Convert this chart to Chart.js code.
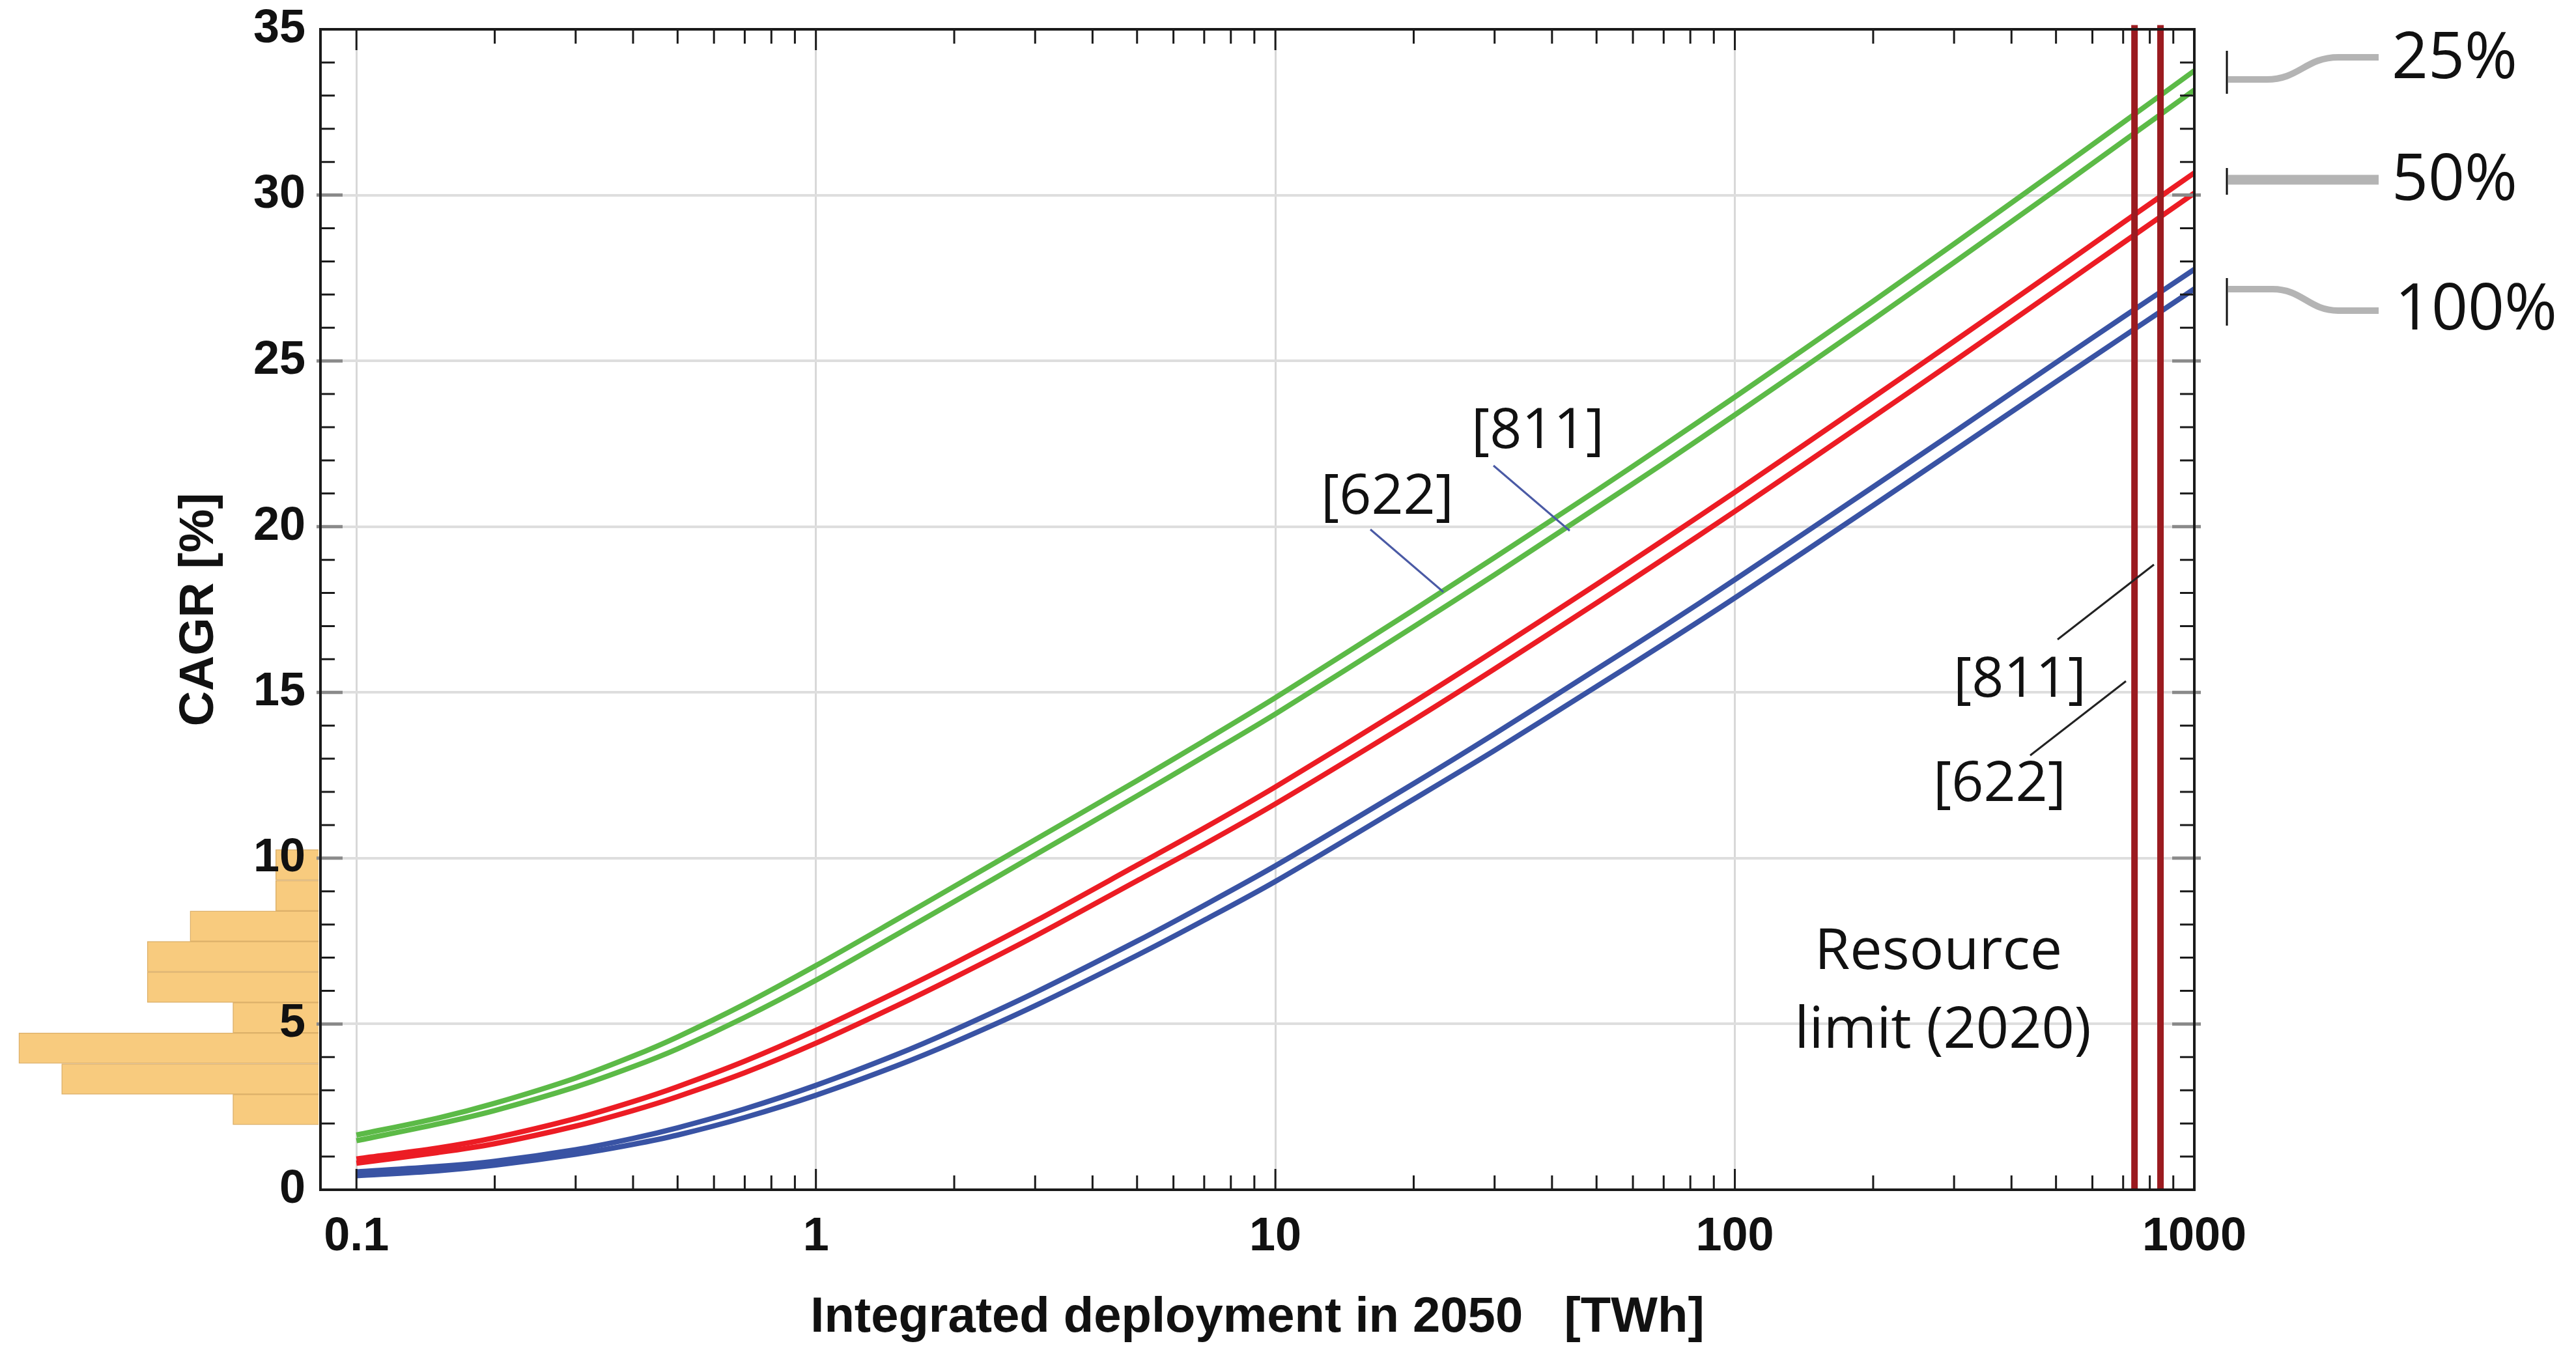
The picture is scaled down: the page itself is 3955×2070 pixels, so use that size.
<!DOCTYPE html>
<html>
<head>
<meta charset="utf-8">
<title>CAGR vs integrated deployment</title>
<script src="https://cdn.jsdelivr.net/npm/chart.js@4.4.1/dist/chart.umd.min.js"></script>
<style>
  html, body { margin: 0; padding: 0; background: #fff; }
  #wrap { position: relative; width: 3955px; height: 2070px; }
  #wrap canvas { position: absolute; left: 0; top: 0; }
</style>
</head>
<body>
<div id="wrap">
  <canvas id="histogram" width="492" height="2070"></canvas>
  <canvas id="cagr" width="3955" height="2070"></canvas>
</div>
<script>
/* global Chart */
// integrated deployment in 2050 [TWh]
var deployment = [0.1, 0.15, 0.2, 0.3, 0.4, 0.5, 0.7, 1, 1.5, 2, 3, 5, 7, 10, 20, 30, 50, 70, 100, 200, 300, 500, 700, 1000];

// CAGR [%] for each scenario, [622] and [811]
var cagr25_622 = [1.65, 2.16, 2.61, 3.37, 4.03, 4.61, 5.6, 6.76, 8.15, 9.15, 10.56, 12.34, 13.54, 14.84, 17.49, 19.07, 21.09, 22.45, 23.91, 26.8, 28.53, 30.73, 32.19, 33.75];
var cagr25_811 = [1.48, 1.98, 2.39, 3.1, 3.71, 4.25, 5.2, 6.32, 7.7, 8.69, 10.1, 11.88, 13.07, 14.35, 16.98, 18.55, 20.57, 21.91, 23.37, 26.25, 27.97, 30.16, 31.62, 33.17];
var cagr50_622 = [0.93, 1.26, 1.57, 2.15, 2.66, 3.11, 3.88, 4.81, 5.97, 6.83, 8.1, 9.79, 10.91, 12.15, 14.71, 16.26, 18.26, 19.6, 21.04, 23.9, 25.59, 27.74, 29.17, 30.67];
var cagr50_811 = [0.8, 1.12, 1.39, 1.92, 2.39, 2.81, 3.53, 4.42, 5.55, 6.4, 7.65, 9.32, 10.42, 11.64, 14.17, 15.71, 17.7, 19.03, 20.46, 23.31, 24.99, 27.14, 28.56, 30.06];
var cagr100_622 = [0.54, 0.7, 0.86, 1.21, 1.55, 1.87, 2.44, 3.15, 4.08, 4.82, 5.95, 7.5, 8.58, 9.77, 12.25, 13.75, 15.7, 16.99, 18.4, 21.2, 22.85, 24.95, 26.32, 27.76];
var cagr100_811 = [0.42, 0.57, 0.74, 1.07, 1.37, 1.65, 2.18, 2.85, 3.74, 4.45, 5.55, 7.07, 8.13, 9.3, 11.78, 13.25, 15.18, 16.46, 17.85, 20.64, 22.29, 24.37, 25.73, 27.17];

// resource limit (2020) [TWh]
var limitNames = ['[622]', '[811]'];
var resourceLimits = [741, 844];

// historical CAGR histogram
var histBinCenters = [2.42, 3.34, 4.27, 5.19, 6.11, 7.03, 7.95, 8.87, 9.80];
var histCounts = [2, 6, 7, 2, 4, 4, 3, 1, 1];

var xTickLabels = [0.1, 1, 10, 100, 1000];

var GREEN = '#5cba47';
var RED = '#ec1c24';
var BLUE = '#3953a4';
var LIMIT = '#9b1b20';
var AXIS_FONT = 'Liberation Sans, Arial, sans-serif';
var NOTE_FONT = 'Open Sans, sans-serif';

function isDecade(v) {
  var l = Math.log10(v);
  return Math.abs(l - Math.round(l)) < 1e-6;
}

function series(values) {
  return values.map(function (v, i) { return { x: deployment[i], y: v }; });
}

function curve(values, color) {
  return {
    data: series(values),
    borderColor: color,
    borderWidth: 8,
    pointRadius: 0,
    tension: 0.3,
    fill: false,
    order: 1
  };
}

var datasets = [];
resourceLimits.forEach(function (limit) {
  datasets.push({
    data: [{ x: limit, y: 0 }, { x: limit, y: 35.13 }],
    borderColor: LIMIT,
    borderWidth: 10,
    pointRadius: 0,
    clip: false,
    order: 0
  });
});
datasets.push(curve(cagr25_622, GREEN));
datasets.push(curve(cagr25_811, GREEN));
datasets.push(curve(cagr50_622, RED));
datasets.push(curve(cagr50_811, RED));
datasets.push(curve(cagr100_622, BLUE));
datasets.push(curve(cagr100_811, BLUE));

// every log tick 0.1 ... 1000 (2..9 minors between decades)
var xTickValues = [];
for (var e = -1; e <= 2; e++) {
  for (var m = 1; m <= 9; m++) {
    xTickValues.push(parseFloat((m * Math.pow(10, e)).toPrecision(3)));
  }
}
xTickValues.push(1000);

var frameAndTicks = {
  id: 'frameAndTicks',
  afterDatasetsDraw: function (chart) {
    var ctx = chart.ctx;
    var area = chart.chartArea;
    var xs = chart.scales.x;
    var ys = chart.scales.y;
    var v, py;
    ctx.save();
    ctx.strokeStyle = '#1a1a1a';
    ctx.lineWidth = 3;
    ctx.beginPath();
    xs.ticks.forEach(function (tick) {
      var px = xs.getPixelForValue(tick.value);
      var len = isDecade(tick.value) ? 32 : 22;
      ctx.moveTo(px, area.bottom); ctx.lineTo(px, area.bottom - len);
      ctx.moveTo(px, area.top); ctx.lineTo(px, area.top + len);
    });
    for (v = 1; v < 35; v++) {
      if (v % 5 === 0) continue;
      py = ys.getPixelForValue(v);
      ctx.moveTo(area.left, py); ctx.lineTo(area.left + 22, py);
      ctx.moveTo(area.right, py); ctx.lineTo(area.right - 22, py);
    }
    ctx.stroke();

    ctx.strokeStyle = '#8a8a8a';
    ctx.lineWidth = 5;
    ctx.beginPath();
    for (v = 5; v < 35; v += 5) {
      py = ys.getPixelForValue(v);
      ctx.moveTo(area.left - 6, py); ctx.lineTo(area.left + 34, py);
      ctx.moveTo(area.right + 10, py); ctx.lineTo(area.right - 34, py);
    }
    ctx.stroke();

    ctx.strokeStyle = '#1a1a1a';
    ctx.lineWidth = 4;
    ctx.strokeRect(area.left, area.top, area.right - area.left, area.bottom - area.top);
    ctx.restore();
  }
};

function leader(ctx, x1, y1, x2, y2, color) {
  ctx.strokeStyle = color;
  ctx.lineWidth = 3;
  ctx.beginPath();
  ctx.moveTo(x1, y1);
  ctx.lineTo(x2, y2);
  ctx.stroke();
}

function note(ctx, text, x, y, size) {
  ctx.font = size + 'px ' + NOTE_FONT;
  ctx.fillStyle = '#111';
  ctx.textAlign = 'center';
  ctx.textBaseline = 'middle';
  ctx.fillText(text, x, y);
}

var annotations = {
  id: 'annotations',
  afterDraw: function (chart) {
    var ctx = chart.ctx;
    ctx.save();
    // labels on the 25% pair
    note(ctx, '[811]', 2361, 663, 86);
    note(ctx, '[622]', 2130, 764, 86);
    leader(ctx, 2293, 715, 2410, 815, '#4a5aa5');
    leader(ctx, 2104, 813, 2216, 909, '#4a5aa5');

    // resource limit labels
    note(ctx, limitNames[1], 3101, 1045, 86);
    note(ctx, limitNames[0], 3070, 1205, 86);
    leader(ctx, 3159, 982, 3307, 867, '#222');
    leader(ctx, 3117, 1160, 3264, 1046, '#222');
    note(ctx, 'Resource', 2976, 1463, 88);
    note(ctx, 'limit (2020)', 2983, 1584, 88);

    // scenario brackets at the right
    ctx.strokeStyle = '#b4b4b4';
    ctx.lineCap = 'butt';
    ctx.lineWidth = 10;
    ctx.beginPath();
    ctx.moveTo(3421, 122); ctx.lineTo(3480, 122);
    ctx.bezierCurveTo(3530, 122, 3540, 88, 3590, 88);
    ctx.lineTo(3652, 88);
    ctx.moveTo(3421, 444); ctx.lineTo(3489, 444);
    ctx.bezierCurveTo(3535, 444, 3545, 477, 3590, 477);
    ctx.lineTo(3652, 477);
    ctx.stroke();
    ctx.lineWidth = 15;
    ctx.beginPath();
    ctx.moveTo(3421, 276); ctx.lineTo(3652, 276);
    ctx.stroke();

    ctx.strokeStyle = '#111';
    ctx.lineWidth = 3;
    ctx.beginPath();
    ctx.moveTo(3419, 78); ctx.lineTo(3419, 144);
    ctx.moveTo(3419, 258); ctx.lineTo(3419, 299);
    ctx.moveTo(3419, 427); ctx.lineTo(3419, 500);
    ctx.stroke();

    ctx.font = '98px ' + NOTE_FONT;
    ctx.fillStyle = '#111';
    ctx.textAlign = 'left';
    ctx.textBaseline = 'alphabetic';
    ctx.fillText('25%', 3672, 120);
    ctx.fillText('50%', 3672, 307);
    ctx.fillText('100%', 3677, 506);
    ctx.restore();
  }
};

new Chart(document.getElementById('histogram'), {
  type: 'bar',
  data: {
    datasets: [{
      data: histBinCenters.map(function (c, i) { return { x: histCounts[i], y: c }; }),
      backgroundColor: '#f8cb7e',
      borderColor: '#dcb06a',
      borderWidth: 1.5,
      barPercentage: 1,
      categoryPercentage: 1
    }]
  },
  options: {
    indexAxis: 'y',
    responsive: false,
    animation: false,
    layout: { padding: { left: 0, right: 3, top: 45, bottom: 243 } },
    scales: {
      x: { type: 'linear', min: 0, max: 7.44, reverse: true, display: false },
      y: { type: 'linear', min: 0, max: 35, offset: false, grid: { offset: false }, display: false }
    },
    plugins: { legend: { display: false }, tooltip: { enabled: false } }
  }
});

new Chart(document.getElementById('cagr'), {
  type: 'line',
  data: { datasets: datasets },
  options: {
    responsive: false,
    animation: false,
    layout: { padding: { left: 0, right: 586, top: 45, bottom: 0 } },
    scales: {
      x: {
        type: 'logarithmic',
        min: 0.0835,
        max: 1000,
        afterFit: function (scale) {
          scale.height = 243;
          scale.paddingLeft = 0;
          scale.paddingRight = 0;
        },
        afterBuildTicks: function (scale) {
          scale.ticks = xTickValues.map(function (v) { return { value: v }; });
        },
        border: { display: false },
        grid: {
          drawTicks: false,
          lineWidth: 3,
          color: function (c) { return c.tick && isDecade(c.tick.value) ? '#d8d8d8' : 'rgba(0,0,0,0)'; }
        },
        ticks: {
          autoSkip: false,
          maxRotation: 0,
          padding: 30,
          color: '#111',
          font: { family: AXIS_FONT, size: 72, weight: 'bold' },
          callback: function (value) {
            return xTickLabels.indexOf(value) >= 0 ? String(value) : '';
          }
        },
        title: {
          display: true,
          text: 'Integrated deployment in 2050   [TWh]',
          color: '#111',
          font: { family: AXIS_FONT, size: 76, weight: 'bold' },
          padding: { top: 0, bottom: 0 }
        }
      },
      y: {
        type: 'linear',
        min: 0,
        max: 35,
        afterFit: function (scale) {
          scale.width = 492;
          scale.paddingTop = 0;
          scale.paddingBottom = 0;
        },
        border: { display: false },
        grid: {
          drawTicks: false,
          lineWidth: 4,
          color: function (c) { return c.tick && c.tick.value > 0 && c.tick.value < 35 ? '#dedede' : 'rgba(0,0,0,0)'; }
        },
        ticks: {
          stepSize: 5,
          padding: 23,
          color: '#111',
          font: { family: AXIS_FONT, size: 72, weight: 'bold' }
        },
        title: {
          display: true,
          text: 'CAGR [%]',
          color: '#111',
          font: { family: AXIS_FONT, size: 75, weight: 'bold' },
          padding: { top: 261, bottom: 0 }
        }
      }
    },
    plugins: { legend: { display: false }, tooltip: { enabled: false } }
  },
  plugins: [frameAndTicks, annotations]
});
</script>
</body>
</html>
